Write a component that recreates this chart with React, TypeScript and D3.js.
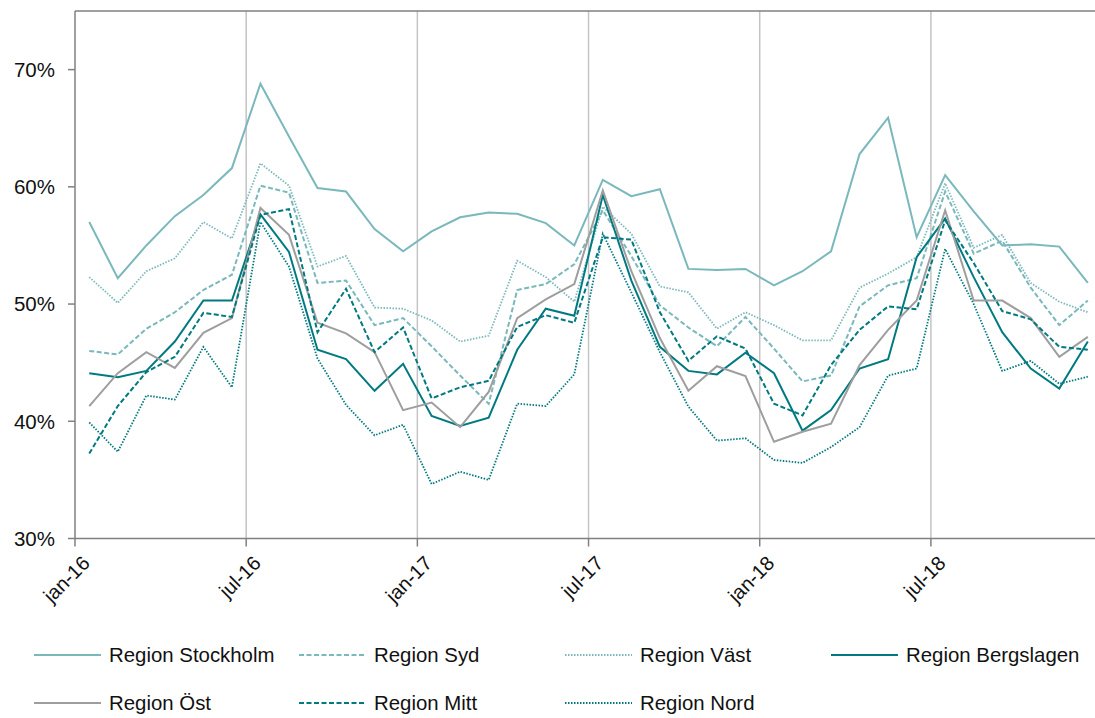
import React from "react";
import * as d3 from "d3";

const categories = [
  "jan-16","feb-16","mar-16","apr-16","maj-16","jun-16","jul-16","aug-16","sep-16","okt-16","nov-16","dec-16",
  "jan-17","feb-17","mar-17","apr-17","maj-17","jun-17","jul-17","aug-17","sep-17","okt-17","nov-17","dec-17",
  "jan-18","feb-18","mar-18","apr-18","maj-18","jun-18","jul-18","aug-18","sep-18","okt-18","nov-18","dec-18",
];
const xTickLabels = ["jan-16", "jul-16", "jan-17", "jul-17", "jan-18", "jul-18"];
const yTicks = [30, 40, 50, 60, 70];

const stockholm = [57.0,52.2,55.0,57.5,59.3,61.6,68.8,64.3,59.9,59.6,56.4,54.5,56.2,57.4,57.8,57.7,56.9,55.0,60.6,59.2,59.8,53.0,52.9,53.0,51.6,52.8,54.5,62.8,65.9,55.7,61.0,57.9,55.0,55.1,54.9,51.8];
const syd = [46.0,45.7,47.9,49.3,51.2,52.5,60.1,59.5,51.8,52.0,48.2,48.8,46.4,43.9,41.5,51.2,51.7,53.4,58.0,54.1,49.9,48.0,46.4,48.9,46.2,43.4,43.9,49.8,51.6,52.2,59.6,54.3,55.4,51.4,48.2,50.3];
const vast = [52.3,50.1,52.8,53.9,57.0,55.6,62.0,60.1,53.2,54.1,49.7,49.6,48.6,46.8,47.3,53.7,52.3,50.2,58.3,56.0,51.5,51.0,47.9,49.3,48.2,46.9,46.9,51.4,52.6,54.0,60.3,54.8,55.9,51.8,50.2,49.3];
const bergslagen = [44.1,43.75,44.3,46.8,50.3,50.3,57.65,54.45,46.1,45.3,42.6,44.9,40.45,39.6,40.3,46.1,49.6,49.0,59.3,52.0,46.35,44.3,44.0,45.85,44.1,39.2,40.95,44.5,45.3,54.0,57.3,52.3,47.6,44.5,42.8,46.8];
const ost = [41.3,44.1,45.9,44.55,47.55,48.8,58.2,55.9,48.4,47.5,45.9,40.95,41.6,39.5,42.5,48.8,50.4,51.7,59.7,52.8,47.1,42.6,44.7,43.85,38.25,39.1,39.8,44.8,47.8,50.3,58.0,50.3,50.3,48.8,45.5,47.2];
const mitt = [37.25,41.3,44.2,45.5,49.25,48.9,57.6,58.1,47.6,51.3,45.9,48.0,41.95,42.9,43.45,48.05,49.05,48.4,55.7,55.5,49.3,45.15,47.25,46.2,41.5,40.5,44.8,47.8,49.8,49.55,57.15,53.5,49.4,48.7,46.35,46.1];
const nord = [39.9,37.4,42.2,41.85,46.35,42.9,57.0,53.2,45.35,41.4,38.8,39.7,34.65,35.7,35.0,41.5,41.3,44.0,56.0,51.0,45.9,41.25,38.35,38.55,36.7,36.45,37.8,39.5,43.9,44.5,54.7,50.0,44.3,45.15,43.2,43.8];

const LIGHT = "#7AB8BC";
const DARK = "#007A80";
const GRAY = "#9E9E9E";
const DASH = "5,2.5";
const DOT = "1.5,1.5";

const series = [
  { name: "Region Stockholm", values: stockholm, color: LIGHT, dash: null },
  { name: "Region Syd", values: syd, color: LIGHT, dash: DASH },
  { name: "Region Väst", values: vast, color: LIGHT, dash: DOT },
  { name: "Region Bergslagen", values: bergslagen, color: DARK, dash: null },
  { name: "Region Öst", values: ost, color: GRAY, dash: null },
  { name: "Region Mitt", values: mitt, color: DARK, dash: DASH },
  { name: "Region Nord", values: nord, color: DARK, dash: DOT },
];

const W = 1095;
const H = 718;
const left = 75;
const top = 11;
const bottom = 538.5;
const bandW = 28.53;
const right = left + bandW * categories.length;
const FONT = "'Liberation Sans', Arial, Helvetica, sans-serif";

export default function App() {
  const x = d3.scaleBand<string>().domain(categories).range([left, right]).padding(0);
  const y = d3.scaleLinear().domain([30, 75]).range([bottom, top]);
  const cx = (c: string) => (x(c) as number) + x.bandwidth() / 2;

  const line = (vals: number[]) =>
    d3.line<number>()
      .x((_, i) => cx(categories[i]))
      .y((v) => y(v))(vals) as string;

  const legendCols = [34, 299, 565, 831];
  const legendRows = [655, 703];

  return (
    <div style={{ position: "absolute", left: 0, top: 0 }}>
      <svg width={W} height={H} style={{ display: "block", fontFamily: FONT }}>
        <rect x={0} y={0} width={W} height={H} fill="#fff" />
        {xTickLabels.map((lab, i) =>
          i === 0 ? null : (
            <line key={lab} x1={x(lab)} x2={x(lab)} y1={top} y2={bottom} stroke="#C4C4C4" strokeWidth={1.5} />
          )
        )}
        <line x1={left} x2={right} y1={top} y2={top} stroke="#808080" strokeWidth={1.5} />
        {series.map((s) => (
          <path
            key={s.name}
            d={line(s.values)}
            fill="none"
            stroke={s.color}
            strokeWidth={s.dash === DOT ? 1.8 : 2}
            strokeDasharray={s.dash ?? undefined}
            strokeLinejoin="miter"
          />
        ))}
        <line x1={left} x2={left} y1={top} y2={bottom} stroke="#808080" strokeWidth={1.5} />
        {yTicks.map((t) => (
          <g key={t}>
            <line x1={left - 7} x2={left} y1={y(t)} y2={y(t)} stroke="#808080" strokeWidth={1.5} />
            <text x={55} y={y(t)} dy="0.36em" textAnchor="end" fontSize={20.5} fill="#111">
              {t}%
            </text>
          </g>
        ))}
        <line x1={left} x2={right} y1={bottom} y2={bottom} stroke="#808080" strokeWidth={1.5} />
        {xTickLabels.map((lab) => {
          const tx = x(lab) as number;
          return (
            <g key={lab}>
              <line x1={tx} x2={tx} y1={bottom} y2={bottom + 8} stroke="#808080" strokeWidth={1.5} />
              <text
                transform={`translate(${tx + 16},${bottom + 26}) rotate(-45)`}
                textAnchor="end"
                fontSize={20}
                fill="#111"
              >
                {lab}
              </text>
            </g>
          );
        })}
        {series.map((s, i) => {
          const col = i % 4;
          const row = Math.floor(i / 4);
          const lx = legendCols[col];
          const ly = legendRows[row];
          return (
            <g key={s.name}>
              <line
                x1={lx}
                x2={lx + 67}
                y1={ly}
                y2={ly}
                stroke={s.color}
                strokeWidth={s.dash === DOT ? 1.8 : 2}
                strokeDasharray={s.dash ?? undefined}
              />
              <text x={lx + 75} y={ly} dy="0.36em" fontSize={20.4} fill="#111">
                {s.name}
              </text>
            </g>
          );
        })}
      </svg>
    </div>
  );
}
